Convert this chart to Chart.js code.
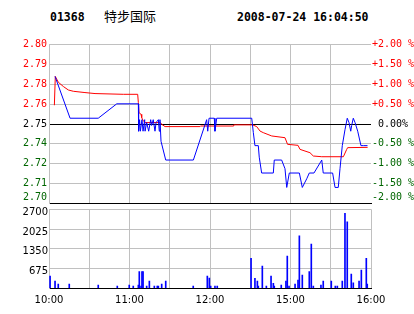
<!DOCTYPE html>
<html>
<head>
<meta charset="utf-8">
<script src="https://cdn.jsdelivr.net/npm/chart.js@4.4.1/dist/chart.umd.min.js"></script>
<style>
  html, body { margin: 0; padding: 0; background: #fff; }
  #wrap { position: relative; width: 414px; height: 314px; overflow: hidden; }
  canvas { position: absolute; left: 0; top: 0; }
  .t { position: absolute; white-space: pre; color: #000; line-height: 12px; }
  .code { left: 50px; top: 10px; font: bold 11.5px "DejaVu Sans Mono", monospace; }
  .name { left: 104px; top: 9px; font: 13px "Noto Sans CJK SC", sans-serif; line-height: 13px; }
  .date { left: 237px; top: 10px; font: bold 11.5px "DejaVu Sans Mono", monospace; }
</style>
</head>
<body>
<div id="wrap">
  <div class="t code">01368</div>
  <div class="t name">特步国际</div>
  <div class="t date">2008-07-24 16:04:50</div>
  <canvas id="main" width="414" height="314"></canvas>
  <canvas id="vol" width="414" height="314"></canvas>
</div>
<script>
// minutes since the 10:00 open (lunch break removed), 240 = 16:00
const timeTicks = [0, 30, 60, 90, 120, 150, 180, 210, 240];
const timeLabels = ["10:00", "", "11:00", "", "12:00", "", "15:00", "", "16:00"];

const prevClose = 2.75;
const pctSteps = [-2, -1.5, -1, -0.5, 0, 0.5, 1, 1.5, 2];
const priceLabels = ["2.70", "2.71", "2.72", "2.74", "2.75", "2.76", "2.78", "2.79", "2.80"];
const pctLabels = ["-2.00 %", "-1.50 %", "-1.00 %", "-0.50 %", " 0.00%", "+0.50 %", "+1.00 %", "+1.50 %", "+2.00 %"];

const priceMinutes = [4.5, 15.7, 36.7, 50.5, 66.6, 66.8, 67.5, 68.1, 69.3, 70.1, 71.3, 71.6, 72.8, 74.3,
  75.8, 76.5, 77.7, 79.0, 79.8, 81.5, 82.2, 82.7, 83.5, 87.0, 107.6, 117.5, 118.3, 119.3, 123.2, 123.7,
  125.0, 151.1, 152.3, 153.5, 156.0, 156.7, 158.5, 167.2, 167.9, 173.4, 175.9, 177.2, 179.1, 186.6,
  188.8, 192.1, 194.0, 197.5, 203.3, 204.4, 211.4, 213.2, 215.6, 216.9, 218.6, 220.6, 222.3, 223.6,
  224.9, 225.6, 226.8, 228.1, 230.1, 232.5, 234.3, 237.4];
const priceValues = [2.783, 2.754, 2.754, 2.764, 2.764, 2.745, 2.753, 2.745, 2.753, 2.745, 2.753, 2.745, 2.751, 2.745,
  2.753, 2.749, 2.753, 2.745, 2.751, 2.753, 2.745, 2.753, 2.738, 2.725, 2.725, 2.753, 2.745, 2.754, 2.754, 2.745,
  2.754, 2.754, 2.744, 2.735, 2.735, 2.727, 2.716, 2.716, 2.725, 2.725, 2.719, 2.706, 2.716, 2.716,
  2.706, 2.712, 2.716, 2.716, 2.725, 2.716, 2.716, 2.706, 2.706, 2.719, 2.735, 2.746, 2.754, 2.751,
  2.745, 2.749, 2.754, 2.751, 2.745, 2.735, 2.735, 2.735];

const avgMinutes = [4.0, 4.7, 6.9, 10.7, 14.4, 18.1, 26.8, 34.3, 55.4, 66.1, 66.6, 67.1, 68.6, 69.1, 70.3,
  71.6, 83.0, 84.0, 86.5, 112.5, 112.9, 137.4, 137.7, 151.8, 154.8, 157.3, 159.7, 166.0, 175.9, 177.8,
  185.6, 187.1, 194.5, 197.0, 203.3, 219.4, 221.9, 222.6, 237.5];
const avgValues = [2.763, 2.783, 2.779, 2.776, 2.7736, 2.7727, 2.7718, 2.7711, 2.7706, 2.7706, 2.7649, 2.7579, 2.7567, 2.7544, 2.7521,
  2.751, 2.751, 2.7498, 2.7482, 2.7482, 2.7486, 2.7486, 2.7494, 2.7494, 2.7482, 2.7451, 2.744, 2.7417, 2.7405, 2.7359,
  2.7352, 2.7324, 2.7301, 2.7278, 2.7273, 2.7273, 2.7324, 2.7336, 2.7338];

const volTicks = [0, 675, 1350, 2025, 2700];
const volLabels = ["", "675", "1350", "2025", "2700"];
const volMinutes = [0.8, 4.5, 6.9, 15.1, 36.7, 50.9, 59.8, 62.8, 66.6, 67.3, 68.6, 69.3, 70.1, 72.8, 74.8,
  78.5, 80.7, 81.5, 84.0, 87.0, 107.5, 118.0, 119.5, 120.5, 123.7, 125.4, 150.6, 153.5, 155.3, 156.0,
  159.0, 162.0, 165.5, 167.2, 167.9, 173.1, 176.6, 177.6, 178.9, 183.4, 185.6, 186.6, 188.8, 194.0,
  195.5, 197.0, 202.7, 204.4, 210.4, 213.4, 214.9, 218.6, 220.6, 222.3, 225.3, 226.8, 231.1, 232.8,
  236.5, 237.2];
const volValues = [420, 250, 147, 147, 113, 80, 113, 80, 113, 570, 80, 570, 570, 80, 250,
  80, 80, 80, 147, 250, 80, 420, 350, 80, 80, 80, 1025, 340, 250, 80,
  760, 80, 420, 170, 80, 113, 250, 1105, 80, 147, 285, 1790, 455, 570,
  1515, 80, 113, 250, 250, 80, 80, 250, 2565, 2270, 490, 190, 250, 625,
  1025, 147];

const GRID = "#c0c0c0";
const priceTicks = pctSteps.map(p => prevClose * (1 + p / 100));

function pctColor(i) {
  if (pctSteps[i] > 0) return "#ff0000";
  if (pctSteps[i] < 0) return "#006600";
  return "#000000";
}

function setTicks(values) {
  return scale => { scale.ticks = values.map(v => ({ value: v })); };
}

// the lowest label sits a little above its line, as in the original
function liftFirst(labels) {
  return (v, i) => i === 0 ? [labels[i], ""] : labels[i];
}

const monoFont = { family: "DejaVu Sans Mono", size: 10 };

new Chart(document.getElementById("main"), {
  type: "line",
  data: {
    datasets: [
      {
        data: priceMinutes.map((m, i) => ({ x: m, y: priceValues[i] })),
        borderColor: "#0000ff", borderWidth: 1, pointRadius: 0, tension: 0
      },
      {
        data: avgMinutes.map((m, i) => ({ x: m, y: avgValues[i] })),
        borderColor: "#ff0000", borderWidth: 1, pointRadius: 0, tension: 0
      }
    ]
  },
  options: {
    responsive: false,
    animation: false,
    layout: { padding: { top: 44.7, bottom: 110.7, left: 0, right: 0 } },
    plugins: { legend: { display: false }, tooltip: { enabled: false } },
    scales: {
      x: {
        type: "linear", min: 0, max: 240,
        afterBuildTicks: setTicks(timeTicks),
        afterFit: s => { s.height = 0; },
        ticks: { display: false },
        grid: { color: c => c.tick && c.tick.value === 240 ? "rgba(0,0,0,0)" : GRID, drawTicks: false },
        border: { color: "#000" }
      },
      y: {
        position: "left",
        min: priceTicks[0], max: priceTicks[priceTicks.length - 1],
        afterBuildTicks: setTicks(priceTicks),
        afterFit: s => { s.width = 49; },
        ticks: {
          callback: liftFirst(priceLabels),
          autoSkip: false,
          color: c => pctColor(c.index),
          font: monoFont, padding: 2
        },
        grid: { color: c => pctSteps[c.index] === 0 ? "#000" : GRID, drawTicks: false },
        border: { color: GRID }
      },
      yr: {
        position: "right",
        min: priceTicks[0], max: priceTicks[priceTicks.length - 1],
        afterBuildTicks: setTicks(priceTicks),
        afterFit: s => { s.width = 43; },
        ticks: {
          callback: liftFirst(pctLabels),
          autoSkip: false,
          color: c => pctColor(c.index),
          font: monoFont, padding: 1
        },
        grid: { display: false, drawTicks: false },
        border: { display: false }
      }
    }
  }
});

new Chart(document.getElementById("vol"), {
  type: "bar",
  data: {
    datasets: [{
      data: volMinutes.map((m, i) => ({ x: m, y: volValues[i] })),
      backgroundColor: "#0000ff", barThickness: 1, grouped: false
    }]
  },
  options: {
    responsive: false,
    animation: false,
    layout: { padding: { top: 209.3, bottom: 0, left: 0, right: 43 } },
    plugins: { legend: { display: false }, tooltip: { enabled: false } },
    scales: {
      x: {
        type: "linear", min: 0, max: 240, offset: false,
        afterBuildTicks: setTicks(timeTicks),
        afterFit: s => { s.height = 25.7; },
        ticks: {
          callback: (v, i) => timeLabels[i],
          autoSkip: false, maxRotation: 0,
          color: "#000", font: { family: "DejaVu Sans", size: 10 }, padding: 6
        },
        grid: { color: GRID, drawTicks: false, offset: false },
        border: { color: "#000" }
      },
      y: {
        min: 0, max: 2700,
        afterBuildTicks: setTicks(volTicks),
        afterFit: s => { s.width = 49; },
        ticks: {
          callback: (v, i) => volLabels[i],
          autoSkip: false,
          color: "#000", font: { family: "DejaVu Sans", size: 10 },
          padding: 1, labelOffset: 3
        },
        grid: { color: GRID, drawTicks: false },
        border: { color: GRID }
      }
    }
  }
});
</script>
</body>
</html>
